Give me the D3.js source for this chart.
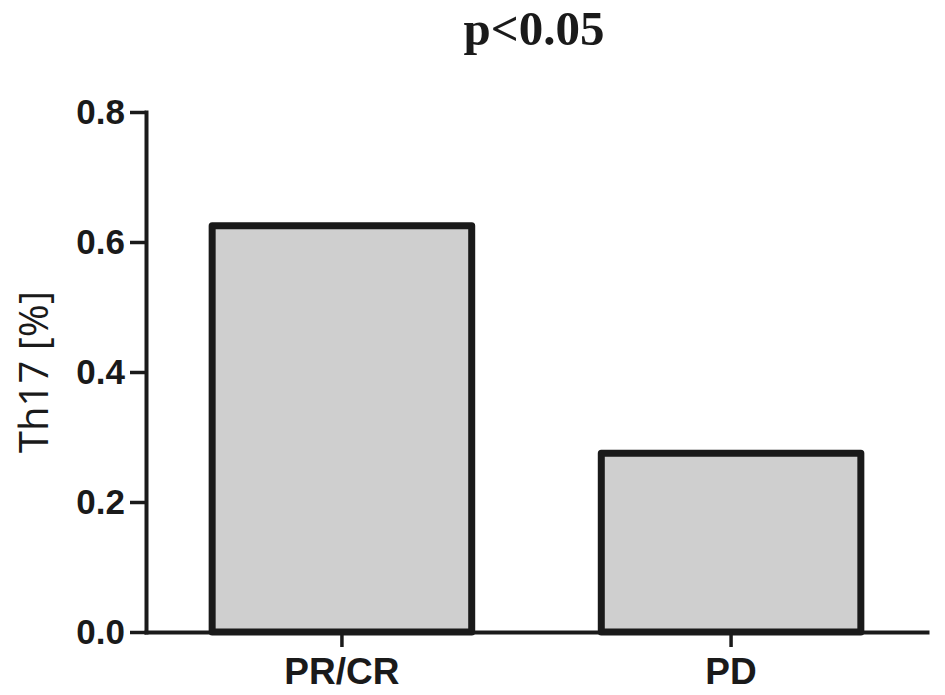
<!DOCTYPE html>
<html>
<head>
<meta charset="utf-8">
<script src="https://cdn.jsdelivr.net/npm/d3@7"></script>
<style>
  body { margin: 0; background: #fff; }
</style>
</head>
<body>
<script>
'use strict';
(function() {

  // chart data
  let groups = ["PR/CR", "PD"];
  let th17 = [0.625, 0.275];
  let yTicks = [0, 0.2, 0.4, 0.6, 0.8];
  let title = "p<0.05";
  let yLabel = "Th17 [%]";

  let svg = d3.select('body')
    .append('svg')
    .attr('width', 945)
    .attr('height', 695);

  // scales
  let xScale = d3.scaleBand()
    .domain(groups)
    .range([146, 927])
    .paddingInner(0.333)
    .paddingOuter(0.17);

  let yScale = d3.scaleLinear()
    .domain([0, 0.8])
    .range([632, 112]);

  // bars
  svg.selectAll('.bar')
    .data(groups)
    .enter()
    .append('rect')
      .attr('class', 'bar')
      .attr('x', (d) => xScale(d))
      .attr('y', (d, i) => yScale(th17[i]))
      .attr('width', xScale.bandwidth())
      .attr('height', (d, i) => yScale(0) - yScale(th17[i]))
      .attr('fill', '#cfcfcf')
      .attr('stroke', '#1a1a1a')
      .attr('stroke-width', 7)
      .attr('stroke-linejoin', 'round');

  // y axis
  let yAxis = d3.axisLeft(yScale)
    .tickValues(yTicks)
    .tickFormat(d3.format('.1f'))
    .tickSize(16)
    .tickSizeOuter(0)
    .tickPadding(5);

  let gy = svg.append('g')
    .attr('transform', 'translate(146, 0)')
    .call(yAxis);

  // x axis
  let xAxis = d3.axisBottom(xScale)
    .tickSize(15)
    .tickSizeOuter(0)
    .tickPadding(11);

  let gx = svg.append('g')
    .attr('transform', 'translate(0, 632)')
    .call(xAxis);

  [gx, gy].forEach((g) => {
    g.select('.domain')
      .attr('stroke', '#1a1a1a')
      .attr('stroke-width', 4)
      .attr('stroke-linecap', 'square');
    g.selectAll('.tick line')
      .attr('stroke', '#1a1a1a')
      .attr('stroke-width', 3.5);
    g.selectAll('.tick text')
      .attr('fill', '#1a1a1a')
      .style('font-family', '"Liberation Sans", Arial, sans-serif')
      .style('font-weight', 'bold');
  });
  gy.selectAll('.tick text').style('font-size', '35px');
  gx.selectAll('.tick text').style('font-size', '37px');

  // title and axis label
  svg.append('text')
    .attr('x', 534)
    .attr('y', 45)
    .attr('text-anchor', 'middle')
    .style('font-family', '"Liberation Serif", "Times New Roman", serif')
    .style('font-weight', 'bold')
    .style('font-size', '49px')
    .attr('fill', '#1a1a1a')
    .text(title);

  svg.append('text')
    .attr('transform', 'translate(48, 372)rotate(-90)')
    .attr('text-anchor', 'middle')
    .style('font-family', '"Open Sans", sans-serif')
    .style('font-size', '40px')
    .attr('fill', '#1a1a1a')
    .text(yLabel);

})();
</script>
</body>
</html>
